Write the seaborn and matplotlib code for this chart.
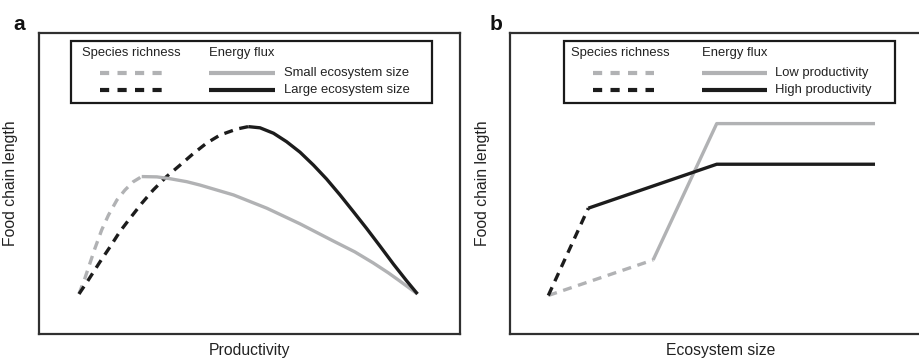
import matplotlib
matplotlib.use("Agg")
import matplotlib.pyplot as plt
import seaborn as sns
import pandas as pd

# ---------------- data (axis units 0-100) ----------------
# Panel a: food chain length vs productivity
a_gray_dash_x = [9.5, 10.9, 12.1, 13.3, 14.9, 16.5, 18.5, 20.4, 22.4, 24.4]
a_gray_dash_y = [13.3, 18.5, 23.5, 28.5, 34.6, 39.5, 44.5, 47.8, 50.6, 52.3]
a_gray_solid_x = [24.4, 28.0, 31.1, 35.1, 38.2, 46.2, 54.1, 62.0, 69.9, 75.0,
                  79.4, 83.0, 85.7, 89.9]
a_gray_solid_y = [52.3, 52.2, 51.6, 50.6, 49.5, 46.2, 41.8, 36.6, 30.9, 27.3,
                  23.6, 20.3, 17.6, 13.3]
a_black_dash_x = [9.5, 11.7, 14.5, 16.9, 19.2, 21.6, 24.4, 27.1, 30.3, 33.5,
                  36.7, 39.8, 43.0, 47.0, 49.7]
a_black_dash_y = [13.3, 17.9, 24.0, 29.0, 34.0, 38.4, 43.4, 47.8, 52.3, 56.1,
                  60.0, 63.4, 66.1, 68.1, 68.9]
a_black_solid_x = [49.7, 52.5, 55.7, 58.8, 62.0, 65.2, 68.3, 71.5, 74.7, 77.8,
                   81.0, 84.2, 87.3, 89.9]
a_black_solid_y = [68.9, 68.5, 66.7, 63.9, 60.4, 56.1, 51.5, 46.2, 40.6, 35.1,
                   29.2, 23.2, 17.7, 13.3]

# Panel b: food chain length vs ecosystem size
b_gray_dash_x = [9.1, 34.0]
b_gray_dash_y = [12.8, 24.6]
b_gray_solid_x = [34.0, 49.1, 86.7]
b_gray_solid_y = [24.6, 69.9, 69.9]
b_black_dash_x = [9.1, 18.6]
b_black_dash_y = [12.8, 41.8]
b_black_solid_x = [18.6, 49.1, 86.7]
b_black_solid_y = [41.8, 56.4, 56.4]

header_labels = ["Species richness", "Energy flux"]
a_legend_labels = ["Small ecosystem size", "Large ecosystem size"]
b_legend_labels = ["Low productivity", "High productivity"]
x_labels = ["Productivity", "Ecosystem size"]
y_label = "Food chain length"
panel_letters = ["a", "b"]

# ---------------- style ----------------
sns.set_style("white")
plt.rcParams["font.family"] = ["Liberation Sans", "DejaVu Sans"]

GRAY = "#b1b2b4"
BLACK = "#1c1c1c"
SPINE = "#303030"
LW = 2.4
DASH = (0, (2.7, 2.0))

W, H = 919, 359
fig = plt.figure(figsize=(W / 100, H / 100), dpi=100)

ax_a = fig.add_axes([39 / W, (H - 334) / H, 421 / W, 301 / H])
ax_b = fig.add_axes([510 / W, (H - 334) / H, 421 / W, 301 / H])


def draw(ax, xs, ys, color, dashed):
    df = pd.DataFrame({"x": xs, "y": ys})
    kw = dict(linestyle=DASH, dash_capstyle="butt") if dashed else dict(solid_capstyle="butt")
    sns.lineplot(data=df, x="x", y="y", ax=ax, color=color, lw=LW,
                 sort=False, estimator=None, **kw)


draw(ax_a, a_gray_dash_x, a_gray_dash_y, GRAY, True)
draw(ax_a, a_black_dash_x, a_black_dash_y, BLACK, True)
draw(ax_a, a_gray_solid_x, a_gray_solid_y, GRAY, False)
draw(ax_a, a_black_solid_x, a_black_solid_y, BLACK, False)

draw(ax_b, b_gray_dash_x, b_gray_dash_y, GRAY, True)
draw(ax_b, b_gray_solid_x, b_gray_solid_y, GRAY, False)
draw(ax_b, b_black_dash_x, b_black_dash_y, BLACK, True)
draw(ax_b, b_black_solid_x, b_black_solid_y, BLACK, False)

for ax, xl in zip([ax_a, ax_b], x_labels):
    ax.set_xlim(0, 100)
    ax.set_ylim(0, 100)
    ax.set_xticks([])
    ax.set_yticks([])
    ax.set_xlabel(xl, fontsize=11.3, color="#222222")
    ax.set_ylabel(y_label, fontsize=11.3, color="#222222")
    ax.xaxis.set_label_coords(0.5, -0.030)
    for s in ax.spines.values():
        s.set_color(SPINE)
        s.set_linewidth(1.6)

ax_a.yaxis.set_label_coords(-0.050, 0.5)
ax_b.yaxis.set_label_coords(-0.047, 0.5)


def legend_box(ax, x0, x1, sr_x, ef_x, dash_x, solid_x, lab_x, labels):
    y0, y1 = 0.767, 0.973
    rect = plt.Rectangle((x0, y0), x1 - x0, y1 - y0, transform=ax.transAxes,
                         fill=False, edgecolor="#1a1a1a", linewidth=1.6, zorder=5)
    ax.add_patch(rect)
    fs = 9.4
    ax.text(sr_x, 0.934, header_labels[0], transform=ax.transAxes, fontsize=fs,
            ha="left", va="center", color="#222222")
    ax.text(ef_x, 0.934, header_labels[1], transform=ax.transAxes, fontsize=fs,
            ha="left", va="center", color="#222222")
    for yy, col, lab in zip([0.868, 0.811], [GRAY, BLACK], labels):
        ax.plot(dash_x, [yy, yy], transform=ax.transAxes, color=col, lw=3.0,
                linestyle=(0, (2.2, 2.0)), dash_capstyle="butt", zorder=6)
        ax.plot(solid_x, [yy, yy], transform=ax.transAxes, color=col, lw=3.0,
                solid_capstyle="butt", zorder=6)
        ax.text(lab_x, yy, lab, transform=ax.transAxes, fontsize=fs,
                ha="left", va="center", color="#222222")


legend_box(ax_a, 0.076, 0.933, 0.102, 0.404, [0.145, 0.292], [0.404, 0.561],
           0.582, a_legend_labels)
legend_box(ax_b, 0.128, 0.914, 0.145, 0.456, [0.197, 0.342], [0.456, 0.610],
           0.629, b_legend_labels)

fig.text(19 / W, 1 - 24 / H, panel_letters[0], fontsize=15, fontweight="bold",
         ha="center", va="center", color="#111111")
fig.text(496 / W, 1 - 24 / H, panel_letters[1], fontsize=15, fontweight="bold",
         ha="center", va="center", color="#111111")

fig.savefig("out.png", dpi=100, facecolor="white")
